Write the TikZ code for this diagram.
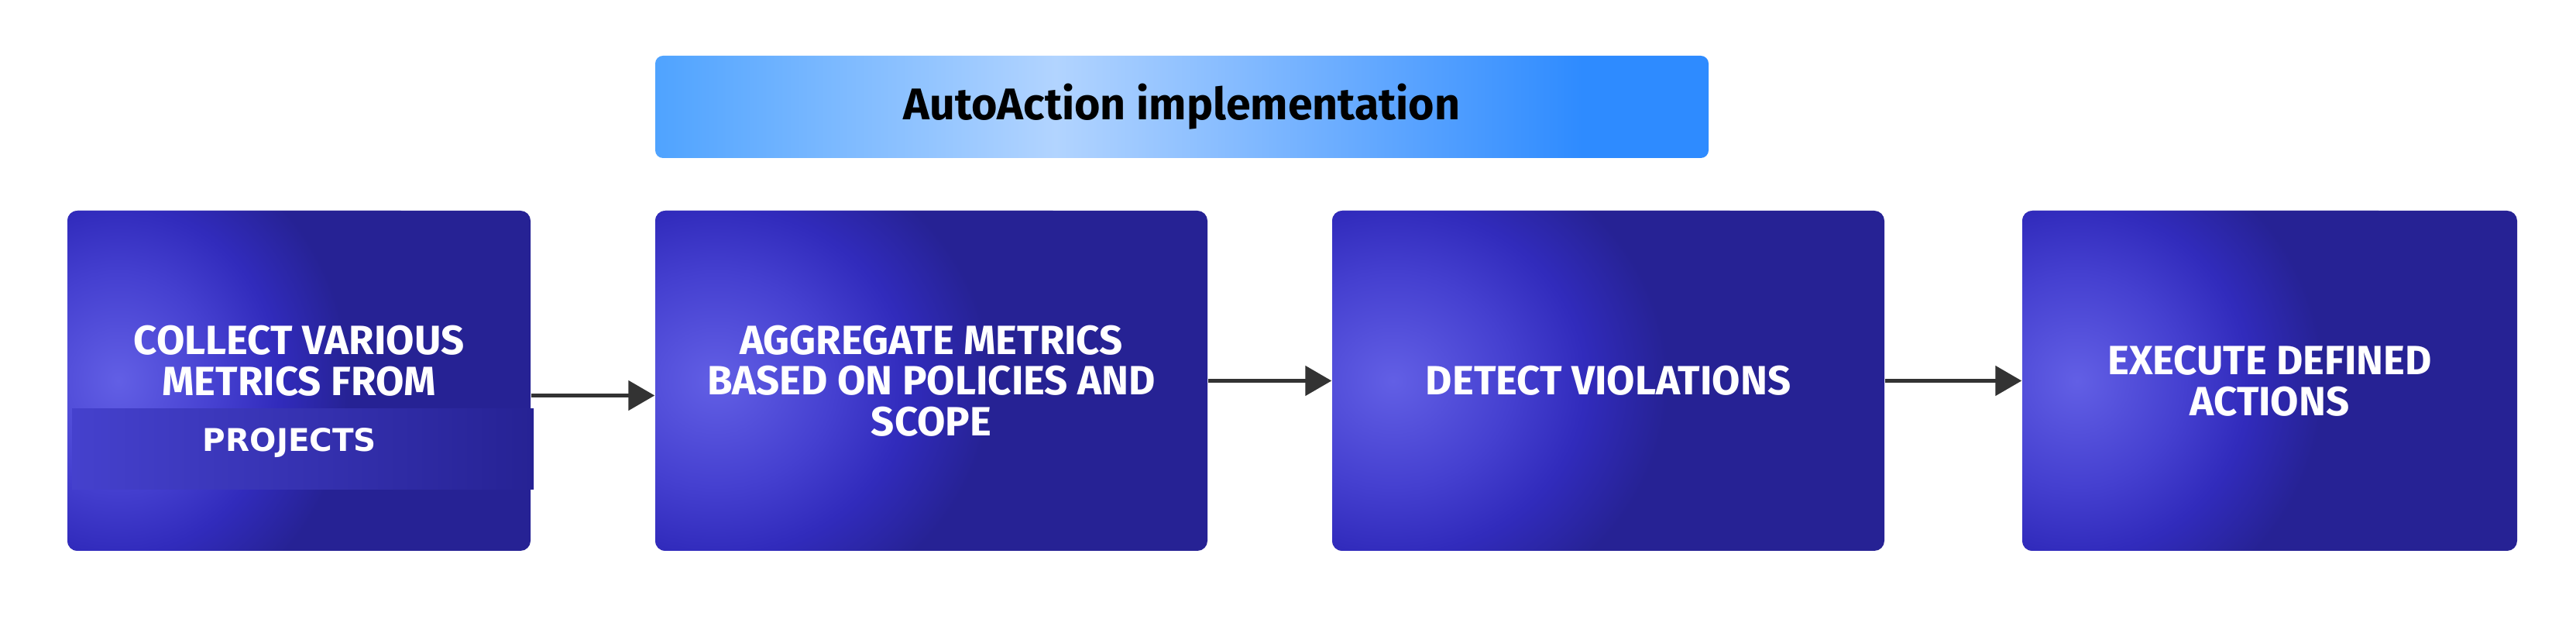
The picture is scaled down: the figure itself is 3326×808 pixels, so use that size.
\documentclass[tikz,border=0pt]{standalone}
\usepackage{fontspec}
\usetikzlibrary{calc,arrows.meta}

\newfontfamily\labelfont{Fira Sans}
\newfontfamily\projfont{DejaVu Sans}

\definecolor{glowA}{HTML}{625FE5}
\definecolor{glowB}{HTML}{4540D0}
\definecolor{glowM}{HTML}{312BBC}
\definecolor{glowC}{HTML}{262294}
\definecolor{ovlA}{HTML}{4541CD}
\definecolor{ovlM}{HTML}{3430BE}
\definecolor{barA}{HTML}{4FA3FF}
\definecolor{barB}{HTML}{B2D4FF}
\definecolor{barC}{HTML}{2E8BFF}
\definecolor{arrowgray}{HTML}{333333}

% glow reaches the dark colour well inside the ellipse
\pgfdeclareradialshading{glow}{\pgfpointorigin}{color(0bp)=(glowA); color(6bp)=(glowB); color(9.8bp)=(glowM); color(14bp)=(glowC); color(50bp)=(glowC)}
\pgfdeclarehorizontalshading{titlebar}{100bp}{color(0bp)=(barA); color(25bp)=(barA); color(44bp)=(barB); color(69bp)=(barC); color(100bp)=(barC)}

\begin{document}
\begin{tikzpicture}[x=0.1mm, y=0.1mm,
  stepbox/.style={rectangle, rounded corners=1.3mm, fill=glowC, minimum height=43.9mm, text=white, align=center,
    font=\labelfont\bfseries\fontsize{15pt}{15pt}\selectfont,
    path picture={\shade[shading=glow] let \p1=(path picture bounding box.south west), \p2=(path picture bounding box.north east) in
      (\x1,{0.5*(\y1+\y2)}) ellipse [x radius={0.78*(\x2-\x1)}, y radius={1.3*(\y2-\y1)}];}},
  ovlbar/.style={rectangle, inner sep=0pt, minimum width=59.6mm, minimum height=10.4mm, left color=ovlA, middle color=ovlM, right color=glowC,
    text=white, font=\projfont\bfseries\fontsize{11.5pt}{13pt}\selectfont, text height=3mm, text depth=2.4mm},
  titlebox/.style={rectangle, rounded corners=1mm, shading=titlebar, minimum width=136mm, minimum height=13.2mm,
    font=\labelfont\bfseries\fontsize{16.3pt}{19pt}\selectfont},
  arrow/.style={->, line width=0.5mm, draw=arrowgray, >={Triangle[length=3.4mm, width=3.8mm]}}
]
  \useasboundingbox (0,0) rectangle (3326,808);

  \node[titlebox] (title) at (1526,670) {AutoAction implementation};

  \node[stepbox, minimum width=59.8mm] (collect) at (386,316.5) {COLLECT VARIOUS\\METRICS FROM\\\mbox{}};
  \node[ovlbar] (projects) at (391,228) {PROJECTS\hspace*{3.4mm}};
  \node[stepbox, minimum width=71.3mm] (aggregate) at (1202.5,316.5) {AGGREGATE METRICS\\BASED ON POLICIES AND\\SCOPE};
  \node[stepbox, minimum width=71.3mm] (detect) at (2076.5,316.5) {DETECT VIOLATIONS};
  \node[stepbox, minimum width=63.9mm] (execute) at (2930.5,316.5) {EXECUTE DEFINED\\ACTIONS};

  \draw[arrow] ($(collect.east)+(0,-19)$) -- ($(aggregate.west)+(0,-19)$);
  \draw[arrow] (aggregate) -- (detect);
  \draw[arrow] (detect) -- (execute);
\end{tikzpicture}
\end{document}
